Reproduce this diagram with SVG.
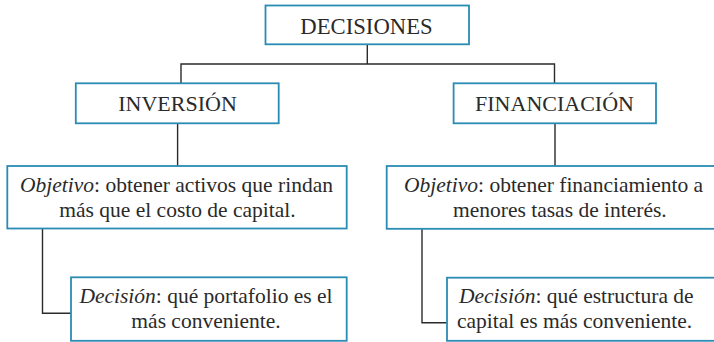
<svg xmlns="http://www.w3.org/2000/svg" width="714" height="342" viewBox="0 0 714 342">
<style>
.box{fill:#fff;stroke:#2a8cb4;stroke-width:1.8}
.conn{fill:none;stroke:#2b2b2b;stroke-width:1.4}
.m{text-anchor:middle}
</style>
<rect width="714" height="342" fill="#fff"/>
<g id="connectors">
<path class="conn" d="M367.3 44.3V64M181 64H554.5M181 63.3V83.3M554.5 63.3V83.3"/>
<path class="conn" d="M177.6 123.3V166M555 123.3V166"/>
<path class="conn" d="M42.5 229V313.3H71"/>
<path class="conn" d="M422 229V322.7H447"/>
</g>
<g font-family="Liberation Serif, Times New Roman, serif" fill="#2a2a2a" font-size="21.5">
<g id="decisiones">
<rect class="box" x="265.5" y="5.5" width="203.5" height="38.8"/>
<text class="m" x="366.5" y="33.5" font-size="22.7">DECISIONES</text>
</g>
<g id="inversion">
<rect class="box" x="75.8" y="83.3" width="202.9" height="40"/>
<text class="m" x="177.5" y="111" font-size="22">INVERSIÓN</text>
</g>
<g id="financiacion">
<rect class="box" x="453.6" y="83.3" width="202.4" height="40"/>
<text class="m" x="554.5" y="111" font-size="22">FINANCIACIÓN</text>
</g>
<g id="objetivo-inversion">
<rect class="box" x="7.3" y="166" width="339.4" height="62.5"/>
<text class="m" x="176.5" y="191.5"><tspan font-style="italic">Objetivo</tspan>: obtener activos que rindan</text>
<text class="m" x="177.5" y="217">más que el costo de capital.</text>
</g>
<g id="objetivo-financiacion">
<rect class="box" x="386.7" y="166" width="340" height="62.8"/>
<text x="404" y="191.5"><tspan font-style="italic">Objetivo</tspan>: obtener financiamiento a</text>
<text x="453" y="217">menores tasas de interés.</text>
</g>
<g id="decision-inversion">
<rect class="box" x="71" y="277.3" width="275.7" height="63.5"/>
<text class="m" x="206" y="302.5"><tspan font-style="italic">Decisión</tspan>: qué portafolio es el</text>
<text class="m" x="206" y="328">más conveniente.</text>
</g>
<g id="decision-financiacion">
<rect class="box" x="447" y="277.7" width="280" height="63.1"/>
<text x="459" y="302.5"><tspan font-style="italic">Decisión</tspan>: qué estructura de</text>
<text x="457" y="328">capital es más conveniente.</text>
</g>
</g>
</svg>
